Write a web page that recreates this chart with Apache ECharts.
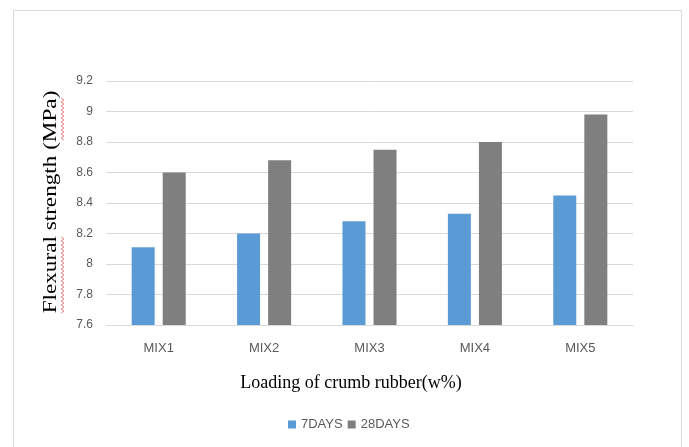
<!DOCTYPE html>
<html>
<head>
<meta charset="utf-8">
<script src="https://cdn.jsdelivr.net/npm/echarts@6/dist/echarts.min.js"></script>
<style>
  html, body { margin: 0; padding: 0; background: #fff; }
  #chart { width: 689px; height: 447px; }
</style>
</head>
<body>
<div id="chart"></div>
<script>
// Flexural strength by mix, at 7 and 28 days of curing
const mixes = ['MIX1', 'MIX2', 'MIX3', 'MIX4', 'MIX5'];
const days7 = [8.11, 8.20, 8.28, 8.33, 8.45];
const days28 = [8.60, 8.68, 8.75, 8.80, 8.98];
const yTicks = [7.6, 7.8, 8, 8.2, 8.4, 8.6, 8.8, 9, 9.2];
const xTitle = 'Loading of crumb rubber(w%)';
const yTitle = 'Flexural strength (MPa)';

const sans = '"Liberation Sans", Arial, sans-serif';
const serif = '"Liberation Serif", "DejaVu Serif", serif';

// red spell-check squiggle along a vertical run at a fixed x
function squiggle(x, y0, y1) {
  const pts = [];
  let k = 0;
  for (let y = y0; y <= y1; y += 2, k++) {
    pts.push([x + (k % 2 ? 1.3 : -1.3), y]);
  }
  return {
    type: 'polyline',
    shape: { points: pts },
    style: { stroke: '#e0504a', lineWidth: 0.8, fill: null },
    silent: true
  };
}

const chart = echarts.init(document.getElementById('chart'), null, { renderer: 'canvas' });
chart.setOption({
  animation: false,
  backgroundColor: '#fff',
  graphic: [
    {
      type: 'rect',
      shape: { x: 13.5, y: 10.5, width: 668, height: 460 },
      style: { fill: null, stroke: '#d9d9d9', lineWidth: 1 },
      silent: true
    },
    {
      // vertical axis title, reading bottom to top
      type: 'text',
      x: 51,
      y: 202,
      rotation: Math.PI / 2,
      scaleX: 1.22,
      style: {
        text: yTitle,
        font: '19px ' + serif,
        fill: '#000',
        textAlign: 'center',
        textVerticalAlign: 'middle'
      },
      silent: true
    },
    {
      type: 'text',
      x: 351,
      y: 383,
      style: {
        text: xTitle,
        font: '18px ' + serif,
        fill: '#000',
        textAlign: 'center',
        textVerticalAlign: 'middle'
      },
      silent: true
    },
    squiggle(62.5, 237, 313),
    squiggle(62.5, 98, 141)
  ],
  grid: { left: 106, right: 56, top: 81, bottom: 122 },
  legend: {
    top: 413,
    left: 283,
    itemWidth: 8,
    itemHeight: 8,
    itemGap: 5,
    icon: 'rect',
    textStyle: { fontFamily: sans, fontSize: 13, color: '#595959' },
    data: ['7DAYS', '28DAYS']
  },
  xAxis: {
    type: 'category',
    data: mixes,
    axisLine: { lineStyle: { color: '#d9d9d9' } },
    axisTick: { show: false },
    axisLabel: { fontFamily: sans, fontSize: 13, color: '#595959', margin: 17 }
  },
  yAxis: {
    type: 'value',
    min: yTicks[0],
    max: yTicks[yTicks.length - 1],
    interval: 0.2,
    axisLine: { show: false },
    axisTick: { show: false },
    splitLine: { lineStyle: { color: '#d9d9d9' } },
    axisLabel: { fontFamily: sans, fontSize: 12, color: '#595959', margin: 13 }
  },
  series: [
    {
      name: '7DAYS',
      type: 'bar',
      data: days7,
      barWidth: 23,
      barGap: '35%',
      itemStyle: { color: '#5b9bd5' }
    },
    {
      name: '28DAYS',
      type: 'bar',
      data: days28,
      barWidth: 23,
      barGap: '35%',
      itemStyle: { color: '#7f7f7f' }
    }
  ]
});
</script>
</body>
</html>
